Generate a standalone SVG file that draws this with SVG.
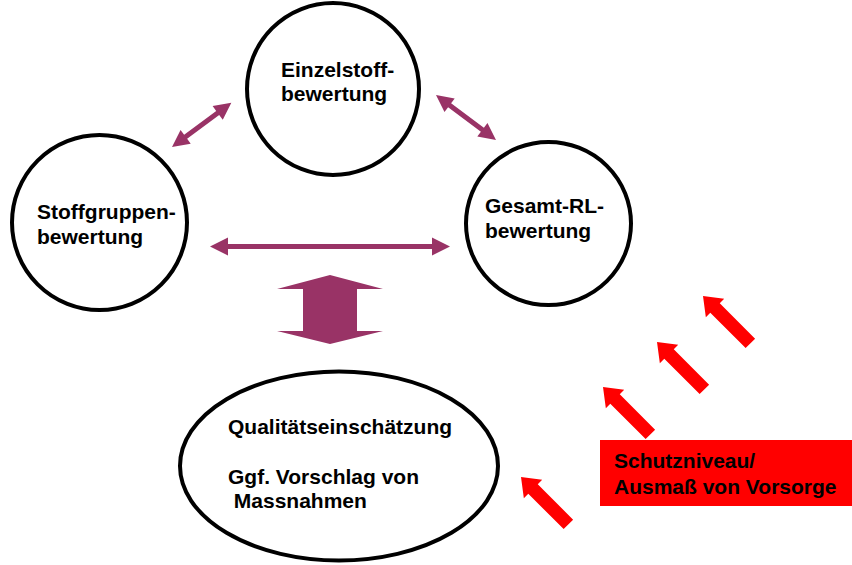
<svg xmlns="http://www.w3.org/2000/svg" width="852" height="565" viewBox="0 0 852 565">
<style>
.node{fill:#fff;stroke:#000;stroke-width:4}
.lbl{font-family:"Liberation Sans",Arial,sans-serif;font-weight:bold;font-size:21px;fill:#000}
.plum{fill:#993366}
.red{fill:#ff0000}
</style>
<defs>
<path id="redArrow" d="M0,0 L17,-13 L17,-6.7 L67,-6.7 L67,6.7 L17,6.7 L17,13 Z"/>
</defs>
<rect width="852" height="565" fill="#fff"/>
<g id="einzelstoff">
<circle class="node" cx="333" cy="89" r="86"/>
<text class="lbl" x="281" y="77">Einzelstoff-</text>
<text class="lbl" x="281" y="101">bewertung</text>
</g>
<g id="stoffgruppen">
<circle class="node" cx="99.5" cy="222.5" r="87.5"/>
<text class="lbl" x="37" y="219">Stoffgruppen-</text>
<text class="lbl" x="37" y="244">bewertung</text>
</g>
<g id="gesamt">
<ellipse class="node" cx="548.5" cy="223.5" rx="82.5" ry="81.5"/>
<text class="lbl" x="485" y="213">Gesamt-RL-</text>
<text class="lbl" x="485" y="238">bewertung</text>
</g>
<g id="qualitaet">
<ellipse class="node" cx="339" cy="466" rx="159" ry="94.5"/>
<text class="lbl" x="228" y="434">Qualitätseinschätzung</text>
<text class="lbl" x="228" y="484">Ggf. Vorschlag von</text>
<text class="lbl" x="228" y="508" xml:space="preserve"> Massnahmen</text>
</g>
<g id="schutzniveau">
<rect class="red" x="600" y="440" width="252" height="66"/>
<text class="lbl" x="614" y="468">Schutzniveau/</text>
<text class="lbl" x="614" y="494">Ausmaß von Vorsorge</text>
</g>
<g id="connectors">
<path class="plum" transform="translate(172,147) rotate(-36.7)" d="M0,0 L17,-8.5 L17,-2.5 L57,-2.5 L57,-8.5 L74,0 L57,8.5 L57,2.5 L17,2.5 L17,8.5 Z"/>
<path class="plum" transform="translate(436,95) rotate(36.87)" d="M0,0 L17,-8.5 L17,-2.5 L58,-2.5 L58,-8.5 L75,0 L58,8.5 L58,2.5 L17,2.5 L17,8.5 Z"/>
<path class="plum" transform="translate(210,246.5)" d="M0,0 L18,-9 L18,-2.5 L222,-2.5 L222,-9 L240,0 L222,9 L222,2.5 L18,2.5 L18,9 Z"/>
<polygon class="plum" points="330,275 383,289 357,289 357,331 383,331 330,344 277,331 303,331 303,289 277,289"/>
<use href="#redArrow" class="red" transform="translate(703,296) rotate(45)"/>
<use href="#redArrow" class="red" transform="translate(657,342) rotate(45)"/>
<use href="#redArrow" class="red" transform="translate(603,387) rotate(45)"/>
<use href="#redArrow" class="red" transform="translate(521,477) rotate(45)"/>
</g>
</svg>
